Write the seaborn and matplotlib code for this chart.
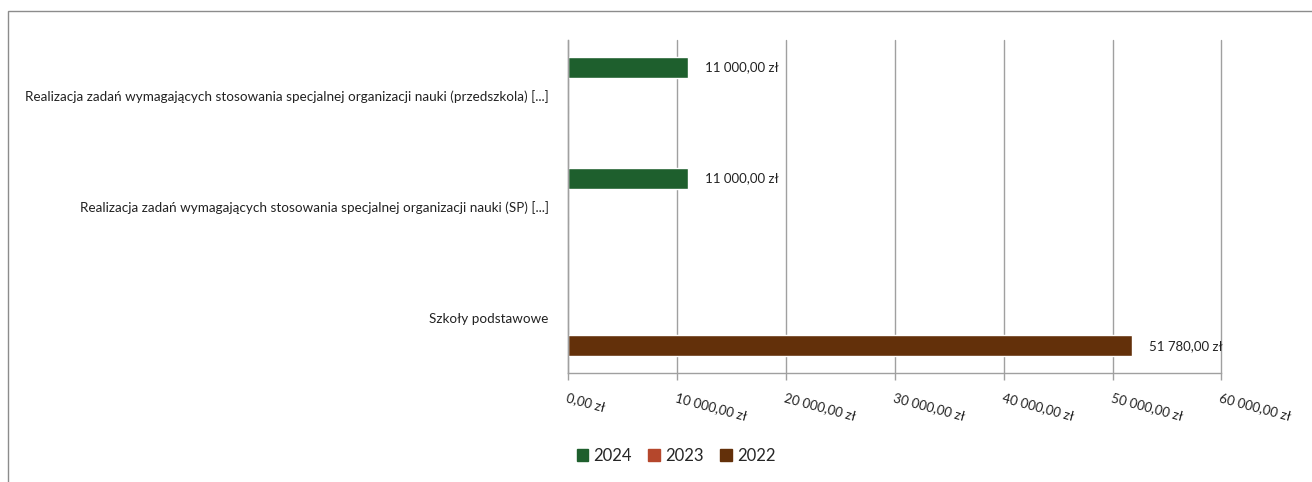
import pandas as pd
import matplotlib.pyplot as plt
import matplotlib.patches as mpatches
import seaborn as sns

# Data
categories = [
    'Realizacja zadań wymagających stosowania specjalnej organizacji nauki (przedszkola) [...]',
    'Realizacja zadań wymagających stosowania specjalnej organizacji nauki (SP) [...]',
    'Szkoły podstawowe',
]
years = ['2024', '2023', '2022']
values_2024 = [11000, 11000, 0]
values_2023 = [0, 0, 0]
values_2022 = [0, 0, 51780]
colors = ['#1E5F2D', '#B5472C', '#63300A']

rows = []
for year, vals in zip(years, [values_2024, values_2023, values_2022]):
    for cat, v in zip(categories, vals):
        rows.append({'kategoria': cat, 'rok': year, 'kwota': v})
df = pd.DataFrame(rows)


def pln(v):
    s = f'{v:,.2f}'.replace(',', ' ').replace('.', ',')
    return s + ' zł'


sns.set_style('white')
plt.rcParams['font.family'] = ['Lato', 'DejaVu Sans']

fig = plt.figure(figsize=(13.12, 4.82), dpi=100)
ax = fig.add_axes([0.433, 0.226, 0.498, 0.691])

sns.barplot(data=df, y='kategoria', x='kwota', hue='rok', hue_order=years,
            order=categories, palette=colors, orient='h', width=0.76, gap=0.25,
            saturation=1, ax=ax, legend=False)

# value labels for non-zero bars
for container, year in zip(ax.containers, years):
    for bar in container:
        w = bar.get_width()
        if w > 0:
            ax.annotate(pln(w), (w, bar.get_y() + bar.get_height() / 2),
                        xytext=(12, 0), textcoords='offset points',
                        va='center', ha='left', fontsize=9.5, color='#222222')

ax.set_xlim(0, 60000)
ax.set_xticks(range(0, 60001, 10000))
ax.set_xticklabels([pln(t) for t in range(0, 60001, 10000)], rotation=-15,
                   ha='left', va='top', rotation_mode='anchor', fontsize=9.5,
                   color='#222222')
ax.set_ylim(2.5, -0.5)
ax.set_yticks(range(len(categories)))
ax.set_yticklabels(categories, fontsize=9.7, color='#222222')
ax.set_yticks([-0.5, 0.5, 1.5, 2.5], minor=True)
ax.tick_params(axis='y', which='major', length=0, pad=14)
ax.tick_params(axis='y', which='minor', length=5, color='#a0a0a0', width=1)
ax.tick_params(axis='x', length=5, color='#a0a0a0', width=1, pad=8,
               bottom=True)
ax.set_xlabel('')
ax.set_ylabel('')

ax.grid(axis='x', color='#a0a0a0', linewidth=1)
for gl in ax.get_xgridlines():
    gl.set_clip_on(False)
ax.set_axisbelow(True)
for side in ['top', 'right']:
    ax.spines[side].set_visible(False)
for side in ['left', 'bottom']:
    ax.spines[side].set_color('#a0a0a0')
    ax.spines[side].set_linewidth(1)

handles = [mpatches.Patch(color=c, label=y) for c, y in zip(colors, years)]
fig.legend(handles=handles, loc='center', bbox_to_anchor=(676 / 1312, 1 - 456 / 482),
           ncol=3, frameon=False, fontsize=12, handlelength=0.7, handleheight=0.7,
           handletextpad=0.3, columnspacing=1.0)

# outer chart border
fig.add_artist(mpatches.Rectangle((8 / 1312, -0.1), 1.1, 1 - 11 / 482 + 0.1,
                                  transform=fig.transFigure, fill=False,
                                  edgecolor='#8c8c8c', linewidth=1))

fig.savefig('out.png', dpi=100)
